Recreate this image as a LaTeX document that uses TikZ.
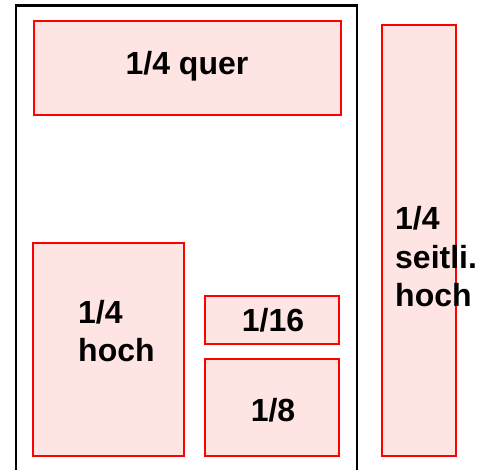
\documentclass[tikz,border=0pt]{standalone}
\usepackage{fontspec}
\setmainfont{Liberation Sans}
\usepackage{xcolor}
\definecolor{rosa}{RGB}{255,228,228}
\tikzset{%
    feld/.style={draw=red, fill=rosa, line width=2pt},
    anteil/.style={inner sep=0pt, font=\bfseries\fontsize{32}{38.5}\selectfont}
}

\begin{document}
\begin{tikzpicture}[x=1pt, y=-1pt]
    \useasboundingbox (0,0) rectangle (485,470);
%-----------------------------------------------
    \draw[line width=2.5pt] (16,470) -- (16,5.5) -- (357,5.5) -- (357,470);
%-----------------------------------------------
    \draw[feld] (34,21) rectangle (341,115);
    \draw[feld] (382,25) rectangle (456,456);
    \draw[feld] (33,243) rectangle (184,456);
    \draw[feld] (205,296) rectangle (339,344);
    \draw[feld] (205,359) rectangle (339,456);
%-----------------------------------------------
    \node[anteil, anchor=base] (quer) at (187,75) {1/4 quer};
    \node[anteil, anchor=base west, align=left] (seitl) at (395,307) {1/4\\seitli.\\hoch};
    \node[anteil, anchor=base west, align=left] (hoch) at (78,362) {1/4\\hoch};
    \node[anteil, anchor=base] (sechz) at (273,332) {1/16};
    \node[anteil, anchor=base] (acht) at (273,421) {1/8};
\end{tikzpicture}
\end{document}
